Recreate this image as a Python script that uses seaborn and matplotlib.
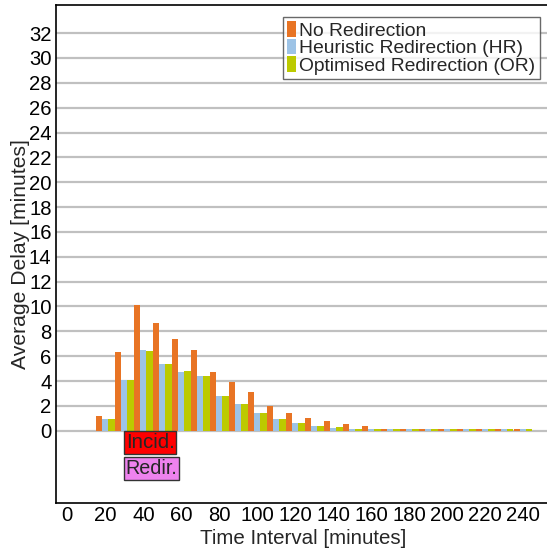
import matplotlib
matplotlib.use("Agg")
import matplotlib.pyplot as plt
import seaborn as sns
import pandas as pd
from matplotlib.patches import Patch

# Time intervals (minutes) and average delay per strategy (minutes)
intervals = list(range(0, 250, 10))
no_redirection = [0, 0, 1.2, 6.35, 10.1, 8.65, 7.4, 6.5, 4.75, 3.95, 3.1, 2.0, 1.4,
                  1.0, 0.8, 0.55, 0.4, 0.15, 0.15, 0.15, 0.15, 0.15, 0.15, 0.15, 0.15]
heuristic = [0, 0, 0.95, 4.1, 6.5, 5.4, 4.75, 4.4, 2.8, 2.15, 1.45, 0.95, 0.6,
             0.4, 0.22, 0.15, 0.15, 0.15, 0.15, 0.15, 0.15, 0.15, 0.15, 0.15, 0.15]
optimised = [0, 0, 0.95, 4.1, 6.4, 5.4, 4.8, 4.4, 2.8, 2.15, 1.45, 0.95, 0.6,
             0.4, 0.3, 0.15, 0.15, 0.15, 0.15, 0.15, 0.15, 0.15, 0.15, 0.15, 0.15]
series_names = ["No Redirection", "Heuristic Redirection (HR)", "Optimised Redirection (OR)"]
colors = ["#E87424", "#9DC3E6", "#BCCA00"]
x_tick_labels = [str(v) for v in range(0, 250, 20)]
y_ticks = list(range(0, 33, 2))

df = pd.DataFrame({
    "Interval": intervals * 3,
    "Delay": no_redirection + heuristic + optimised,
    "Strategy": [series_names[0]] * len(intervals)
    + [series_names[1]] * len(intervals)
    + [series_names[2]] * len(intervals),
})

sns.set_style("white")
plt.rcParams["font.family"] = ["Liberation Sans", "DejaVu Sans"]

fig = plt.figure(figsize=(5.47, 5.48), dpi=100)
ax = fig.add_axes([0.1018, 0.0821, 0.905, 0.908])

sns.barplot(data=df, x="Interval", y="Delay", hue="Strategy",
            hue_order=series_names, palette=colors, width=0.98,
            saturation=1, edgecolor="none", linewidth=0, legend=False, ax=ax)

ax.set_xlim(-0.615, 25.45)
ax.set_ylim(-5.82, 34.23)
ax.set_yticks(y_ticks)
ax.set_yticklabels([str(v) for v in y_ticks])
ax.set_xticks(range(0, 25, 2))
ax.set_xticklabels(x_tick_labels)
ax.tick_params(axis="both", length=0, labelsize=14.6, colors="black")
ax.tick_params(axis="y", pad=3)
ax.tick_params(axis="x", pad=2)

for y in y_ticks:
    ax.axhline(y, color="#c0c0c0", lw=1.6, zorder=0)

for side in ["left", "bottom", "top"]:
    ax.spines[side].set_color("black")
    ax.spines[side].set_linewidth(1.2)
ax.spines["right"].set_visible(False)

ax.set_xlabel("Time Interval [minutes]", fontsize=14.8, labelpad=3)
ax.set_ylabel("Average Delay [minutes]", fontsize=15.2, labelpad=-1)

handles = [Patch(facecolor=c, edgecolor="none") for c in colors]
leg = ax.legend(handles, series_names, loc="upper right",
                bbox_to_anchor=(0.978, 0.9765), fontsize=13.9,
                handlelength=0.45, handleheight=0.85, handletextpad=0.2,
                labelspacing=-0.05, borderpad=0.22, borderaxespad=0,
                frameon=True, fancybox=False)
leg.get_frame().set_edgecolor("#444444")
leg.get_frame().set_linewidth(1.0)

# Event markers below the axis
ax.text(3.07, -0.2, "Incid.", fontsize=14.8, ha="left", va="top",
        bbox=dict(boxstyle="square,pad=0.1", fc="#FF0000", ec="#333333", lw=1))
ax.text(3.07, -2.3, "Redir.", fontsize=14.2, ha="left", va="top",
        bbox=dict(boxstyle="square,pad=0.1", fc="#EE82EE", ec="#333333", lw=1))

fig.savefig("out.png", dpi=100)
